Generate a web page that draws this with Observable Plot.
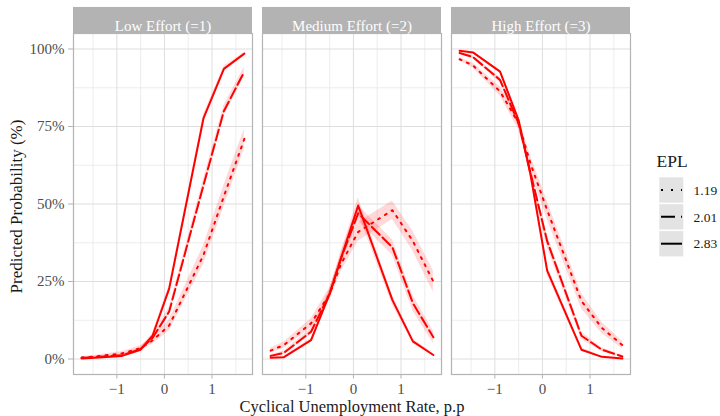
<!DOCTYPE html>
<html><head><meta charset="utf-8">
<script src="https://cdn.jsdelivr.net/npm/d3@7"></script>
<script src="https://cdn.jsdelivr.net/npm/@observablehq/plot@0.6"></script>
<style>
body{margin:0;background:#fff;}
#chart{position:relative;width:720px;height:416px;}
</style></head><body><div id="chart"></div>
<script>
// ---- data ----
const efforts = ["Low Effort (=1)", "Medium Effort (=2)", "High Effort (=3)"];
const eplLevels = ["1.19", "2.01", "2.83"];
const cycUnemp = [-1.74, -1.46, -0.89, -0.5, -0.25, 0.1, 0.82, 1.25, 1.68];

// predicted probability (%) by effort and EPL
const low_119  = [0.5, 0.8, 1.8, 3.5, 6.0, 10.8, 33.5, 52.5, 71.0];
const low_201  = [0.3, 0.6, 1.2, 3.2, 6.8, 15.3, 56.0, 80.0, 92.7];
const low_283  = [0.2, 0.4, 1.0, 3.0, 7.5, 22.7, 77.6, 93.6, 98.5];
const med_119  = [2.7, 4.5, 11.5, 21.0, 31.0, 41.0, 48.0, 38.0, 25.0];
const med_201  = [1.0, 2.0, 8.8, 21.0, 33.0, 47.0, 36.0, 18.0, 7.0];
const med_283  = [0.4, 0.6, 6.1, 21.0, 33.0, 49.5, 19.0, 5.7, 1.3];
const high_119 = [96.7, 94.7, 86.3, 76.0, 63.0, 48.0, 18.7, 10.0, 4.5];
const high_201 = [98.7, 97.4, 90.0, 76.0, 60.0, 38.0, 7.5, 3.0, 0.8];
const high_283 = [99.4, 98.9, 92.7, 77.0, 59.5, 28.5, 3.0, 0.7, 0.2];

// half-width of the confidence ribbon (%)
const low_119_ci  = [0.3, 0.4, 0.6, 0.8, 1.2, 1.8, 3.0, 3.5, 3.2];
const low_201_ci  = [0.2, 0.3, 0.4, 0.6, 0.9, 1.3, 2.0, 1.8, 1.5];
const low_283_ci  = [0.1, 0.2, 0.3, 0.5, 0.8, 1.2, 1.2, 0.8, 0.4];
const med_119_ci  = [0.8, 1.0, 1.5, 2.0, 2.5, 3.0, 3.0, 3.2, 3.5];
const med_201_ci  = [0.4, 0.6, 1.0, 1.5, 2.0, 2.5, 2.5, 2.5, 2.0];
const med_283_ci  = [0.2, 0.3, 0.6, 1.2, 1.8, 2.5, 1.5, 0.8, 0.3];
const high_119_ci = [0.5, 0.8, 1.5, 2.0, 2.5, 3.0, 2.5, 1.8, 1.2];
const high_201_ci = [0.3, 0.5, 0.8, 1.2, 1.8, 2.0, 1.2, 0.6, 0.3];
const high_283_ci = [0.1, 0.2, 0.4, 0.8, 1.2, 1.5, 0.6, 0.2, 0.1];

const xTicks = [-1, 0, 1];
const xTickLabels = ["\u22121", "0", "1"];
const yTicks = [0, 25, 50, 75, 100];
const yTickLabels = ["0%", "25%", "50%", "75%", "100%"];

// ---- table ----
const series = [
  [efforts[0], eplLevels[0], low_119, low_119_ci],
  [efforts[0], eplLevels[1], low_201, low_201_ci],
  [efforts[0], eplLevels[2], low_283, low_283_ci],
  [efforts[1], eplLevels[0], med_119, med_119_ci],
  [efforts[1], eplLevels[1], med_201, med_201_ci],
  [efforts[1], eplLevels[2], med_283, med_283_ci],
  [efforts[2], eplLevels[0], high_119, high_119_ci],
  [efforts[2], eplLevels[1], high_201, high_201_ci],
  [efforts[2], eplLevels[2], high_283, high_283_ci]
];
const rows = [];
for (const [effort, epl, vals, ci] of series) {
  vals.forEach((v, i) => rows.push({effort, epl, x: cycUnemp[i], y: v, lo: v - ci[i], hi: v + ci[i]}));
}

// ---- scales (ggplot-like 5% expansion) ----
const xr = d3.extent(cycUnemp);
const xpad = (xr[1] - xr[0]) * 0.05;
const xDomain = [xr[0] - xpad, xr[1] + xpad];
const yDomain = [-5, 105];
const xMinor = [-1.5, -0.5, 0.5, 1.5];
const yMinor = [12.5, 37.5, 62.5, 87.5];

const dash = {"1.19": "2,6", "2.01": "11,4", "2.83": null};
const serif = "Liberation Serif, DejaVu Serif, Noto Serif, serif";
const stripSpan = 8.4; // strip height expressed in y units above the panel

const plot = Plot.plot({
  width: 720,
  height: 416,
  marginLeft: 72,
  marginRight: 88,
  marginTop: 33,
  marginBottom: 42,
  style: {fontFamily: serif, fontSize: "15px", background: "white", overflow: "visible"},
  fx: {domain: efforts, paddingInner: 0.0526, paddingOuter: 0, axis: null, label: null},
  x: {domain: xDomain, label: null},
  y: {domain: yDomain, label: null},
  marks: [
    Plot.ruleX(xMinor, {stroke: "#e9e9e9", strokeWidth: 0.8}),
    Plot.ruleY(yMinor, {stroke: "#e9e9e9", strokeWidth: 0.8}),
    Plot.ruleX(xTicks, {stroke: "#dedede", strokeWidth: 1}),
    Plot.ruleY(yTicks, {stroke: "#dedede", strokeWidth: 1}),
    Plot.areaY(rows, {fx: "effort", x: "x", y1: "lo", y2: "hi", z: "epl", fill: "red", fillOpacity: 0.15}),
    ...eplLevels.map(k => Plot.line(rows.filter(r => r.epl === k), {
      fx: "effort", x: "x", y: "y", z: "effort", stroke: "#ff0000", strokeWidth: 2,
      strokeDasharray: dash[k] || undefined
    })),
    Plot.frame({stroke: "#b3b3b3", strokeWidth: 1.2}),
    Plot.rect(efforts, {fx: d => d, y1: yDomain[1], y2: yDomain[1] + stripSpan, fill: "#b3b3b3"}),
    Plot.text(efforts, {fx: d => d, text: d => d, frameAnchor: "top", dy: -13, fill: "white", fontSize: 15}),
    Plot.axisY({ticks: yTicks, tickFormat: d => yTickLabels[yTicks.indexOf(d)], tickSize: 5, tickPadding: 4,
      stroke: "#b3b3b3", fill: "#4d4d4d", label: null, fontSize: 15}),
    Plot.axisX({ticks: xTicks, tickFormat: d => xTickLabels[xTicks.indexOf(d)], tickSize: 4.5, tickPadding: 4,
      stroke: "#b3b3b3", fill: "#4d4d4d", label: null, fontSize: 15})
  ]
});

const svg = d3.select(plot);
// axis titles
svg.append("text").attr("x", 352).attr("y", 412).attr("text-anchor", "middle")
  .attr("font-family", serif).attr("font-size", 16.5).attr("fill", "#1a1a1a")
  .text("Cyclical Unemployment Rate, p.p");
svg.append("text").attr("transform", "translate(21.5,206.5) rotate(-90)").attr("text-anchor", "middle")
  .attr("font-family", serif).attr("font-size", 17).attr("fill", "#1a1a1a")
  .text("Predicted Probability (%)");

// legend
const lg = svg.append("g").attr("font-family", serif).attr("text-anchor", "start");
lg.append("text").attr("x", 656.5).attr("y", 166.5).attr("font-size", 17.5).attr("fill", "#1a1a1a").text("EPL");
const legendDash = {"1.19": "2,8", "2.01": "14,6", "2.83": null};
eplLevels.forEach((k, i) => {
  const y0 = 177.3 + i * 26.9;
  lg.append("rect").attr("x", 659.3).attr("y", y0).attr("width", 24).attr("height", 25.3).attr("fill", "#e3e3e3");
  const ln = lg.append("line").attr("x1", 661).attr("x2", 682).attr("y1", y0 + 12.6).attr("y2", y0 + 12.6)
    .attr("stroke", "black").attr("stroke-width", 2);
  if (legendDash[k]) ln.attr("stroke-dasharray", legendDash[k]);
  lg.append("text").attr("x", 693.5).attr("y", y0 + 17.3).attr("font-size", 13.5).attr("fill", "#1a1a1a").text(k);
});

document.getElementById("chart").appendChild(plot);
</script></body></html>
